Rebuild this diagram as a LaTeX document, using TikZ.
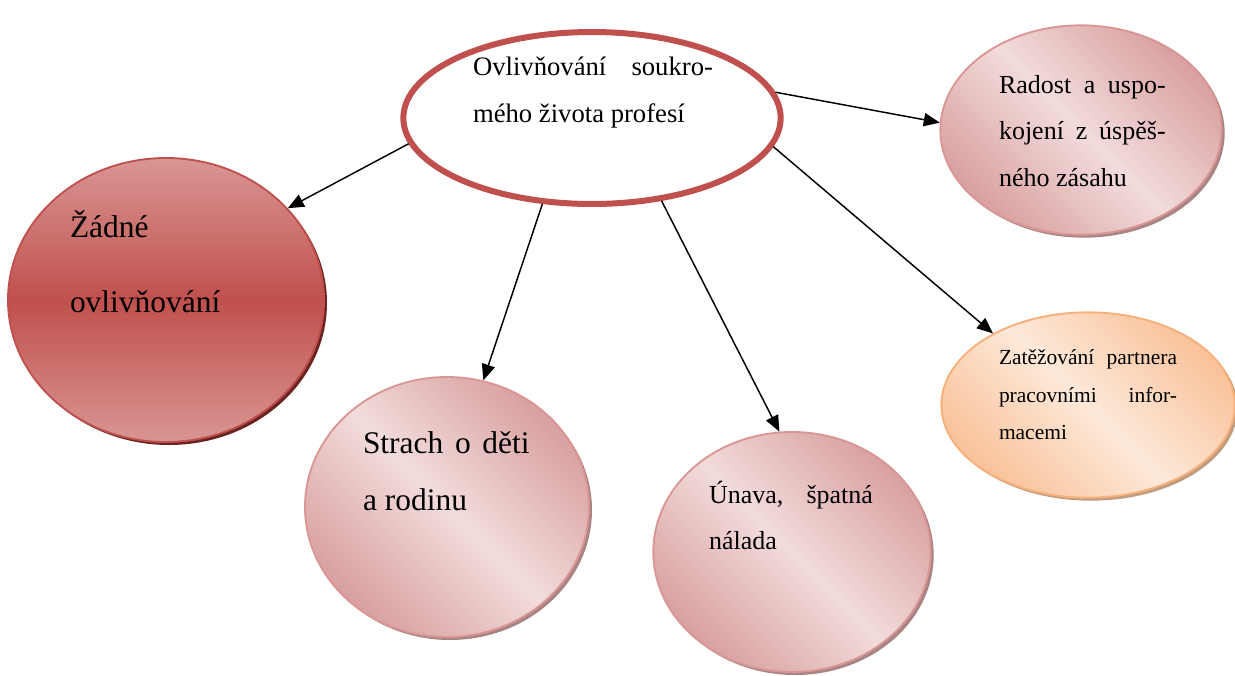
\documentclass[tikz,border=0pt]{standalone}
\usepackage{fontspec}
\setmainfont{Liberation Serif}
\usetikzlibrary{shapes.geometric,arrows.meta}

\definecolor{accent}{HTML}{C0504D}
\definecolor{accentlight}{HTML}{D99694}
\definecolor{accentdark}{HTML}{6B2422}
\definecolor{pinkedge}{HTML}{D99694}
\definecolor{pinkdark}{HTML}{D9A0A0}
\definecolor{pinklight}{HTML}{F2DCDB}
\definecolor{pinkshadow}{HTML}{A88484}
\definecolor{orangeedge}{HTML}{F8B07A}
\definecolor{orangedark}{HTML}{F9C29A}
\definecolor{orangelight}{HTML}{FDE9D9}
\definecolor{orangeshadow}{HTML}{C09C80}

\tikzset{
  bubble/.style={ellipse, inner sep=0pt},
  centerbubble/.style={bubble, draw=accent, line width=4.5pt, fill=white},
  redbubble/.style={bubble, draw=accent, line width=1.4pt,
    top color=accentlight, bottom color=accentlight, middle color=accent},
  pinkbubble/.style={bubble, draw=pinkedge, line width=1.4pt,
    top color=pinkdark, bottom color=pinkdark, middle color=pinklight, shading angle=-45},
  orangebubble/.style={bubble, draw=orangeedge, line width=1.4pt,
    top color=orangedark, bottom color=orangedark, middle color=orangelight, shading angle=-45},
  shadowbubble/.style={ellipse, inner sep=0pt, draw=none},
  textline/.style={anchor=base west, inner sep=0pt, outer sep=0pt},
  link/.style={line width=1.1pt, -{Triangle[length=12pt,width=10pt]}}
}

\begin{document}
\begin{tikzpicture}[x=0.75pt,y=-0.75pt]
\useasboundingbox (0,0) rectangle (1235,675);

% shadows under the bubbles
\node[shadowbubble, fill=accentdark, minimum width=237pt, minimum height=213pt] (lsh) at (169,303) {};
\node[shadowbubble, fill=pinkshadow, minimum width=213pt, minimum height=195pt] (ssh) at (450,510) {};
\node[shadowbubble, fill=pinkshadow, minimum width=208pt, minimum height=180pt] (ush) at (795,555) {};
\node[shadowbubble, fill=pinkshadow, minimum width=211pt, minimum height=157pt] (rsh) at (1084,133) {};
\node[shadowbubble, fill=orangeshadow, minimum width=220pt, minimum height=139pt] (zsh) at (1091,408) {};

% bubbles
\node[centerbubble, minimum width=283pt, minimum height=129pt] (c) at (592,118) {};
\node[redbubble, minimum width=237pt, minimum height=213pt] (l) at (166,300) {};
\node[pinkbubble, minimum width=213pt, minimum height=195pt] (s) at (447,507) {};
\node[pinkbubble, minimum width=208pt, minimum height=180pt] (u) at (792,552) {};
\node[pinkbubble, minimum width=211pt, minimum height=157pt] (r) at (1081,130) {};
\node[orangebubble, minimum width=220pt, minimum height=139pt] (z) at (1088,405) {};

% texts
\begingroup
\fontsize{20pt}{24pt}\selectfont
\node[textline] (c1) at (473,75) {\makebox[180pt][s]{Ovlivňování soukro-}};
\node[textline] (c2) at (473,122) {mého života profesí};
\endgroup

\begingroup
\fontsize{23.6pt}{28pt}\selectfont
\node[textline] (l1) at (70,237) {Žádné};
\node[textline] (l2) at (70,312) {ovlivňování};
\node[textline] (s1) at (363,453) {\makebox[125pt][s]{Strach o děti}};
\node[textline] (s2) at (363,510) {a rodinu};
\endgroup

\begingroup
\fontsize{19.5pt}{23pt}\selectfont
\node[textline] (u1) at (709,503) {\makebox[123pt][s]{Únava, špatná}};
\node[textline] (u2) at (709,549) {nálada};
\node[textline] (r1) at (999,93) {\makebox[125pt][s]{Radost a uspo-}};
\node[textline] (r2) at (999,139) {\makebox[125pt][s]{kojení z úspěš-}};
\node[textline] (r3) at (999,186) {ného zásahu};
\endgroup

\begingroup
\fontsize{16.1pt}{19pt}\selectfont
\node[textline] (z1) at (999,364) {\makebox[133.5pt][s]{Zatěžování partnera}};
\node[textline] (z2) at (999,402) {\makebox[133.5pt][s]{pracovními infor-}};
\node[textline] (z3) at (999,439) {macemi};
\endgroup

% connectors
\draw[link] (c.188) -- (l.37);
\draw[link] (c.240) -- (s.74);
\draw[link] (c.310) -- (u.96);
\draw[link] (c.-9) -- (z.143);
\draw[link] (c.8.5) -- (r.177);
\end{tikzpicture}
\end{document}
